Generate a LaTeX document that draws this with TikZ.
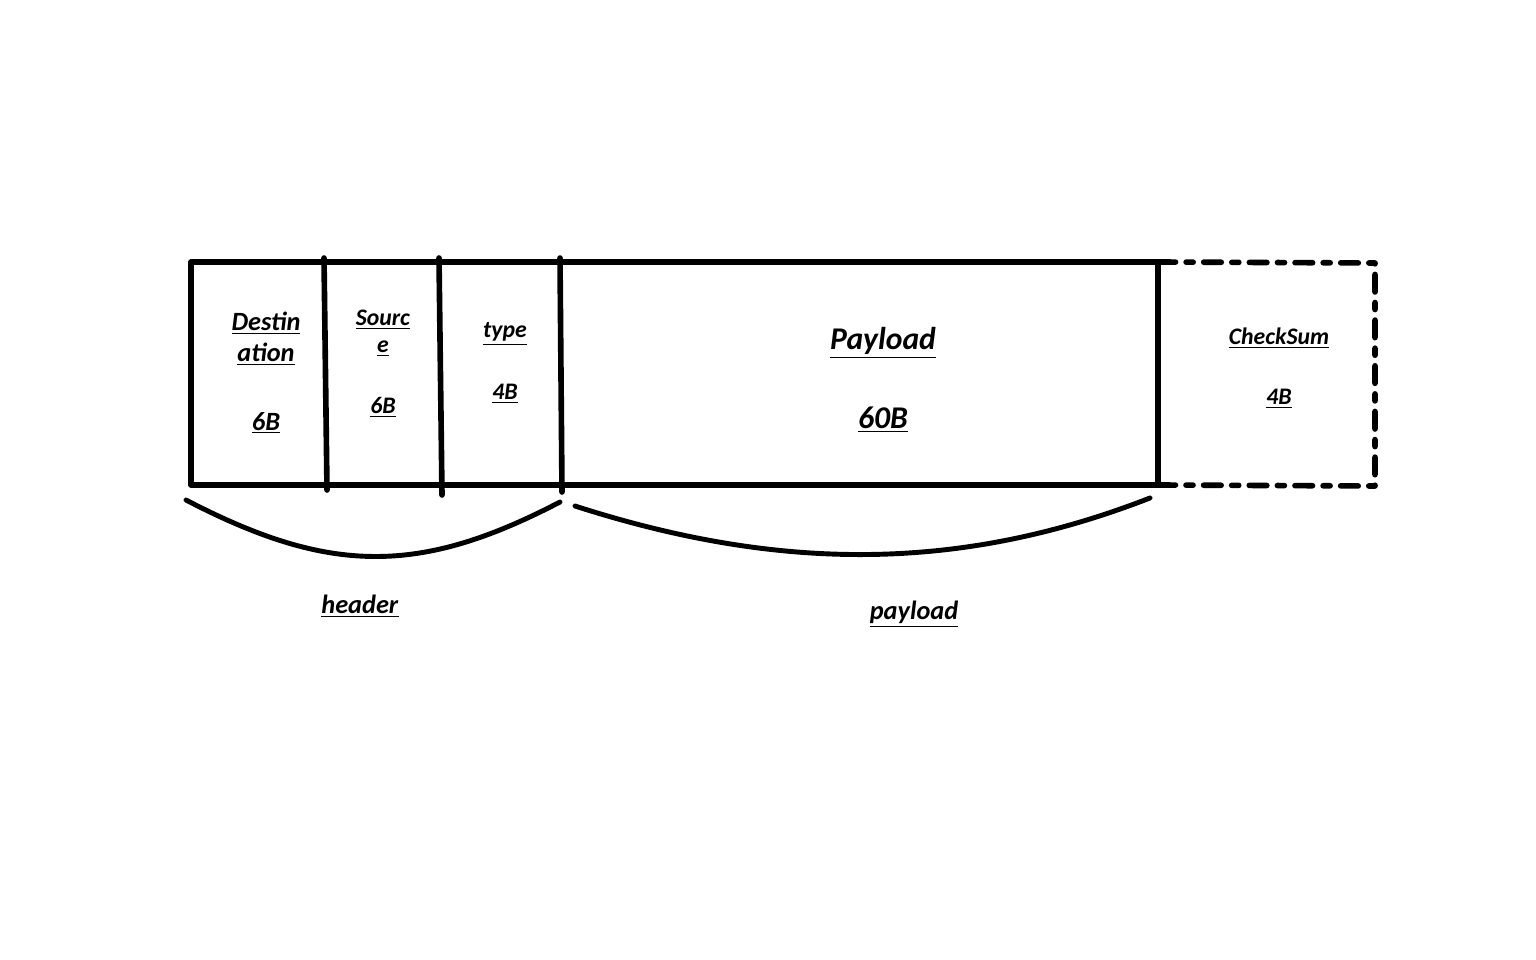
\documentclass[tikz,border=0pt]{standalone}
\usepackage{fontspec}
\setmainfont{Carlito}
\usepackage{tikz}

\newcommand{\fieldtext}[1]{\underline{\textbf{\textit{#1}}}}

\begin{document}
\begin{tikzpicture}
	[x=0.02cm,y=-0.02cm,line cap=round,line join=round,
		frame/.style={line width=3.2pt},
		brace/.style={line width=2.8pt},
		big/.style={font=\fontsize{18}{20}\selectfont},
		mid/.style={font=\fontsize{15}{17}\selectfont},
		small/.style={font=\fontsize{13.5}{15}\selectfont}]

	\useasboundingbox (0,0) rectangle (1536,960);

	% frame of the packet
	\coordinate (TL) at (191,262);
	\coordinate (BL) at (191,485);
	\coordinate (TR) at (1158,262);
	\coordinate (BR) at (1158,485);
	\draw[frame] (TR) -- (TL) -- (BL) -- (BR) -- cycle;

	% field borders
	\draw[frame] (324,258) -- (327,490);
	\draw[frame] (439,258) -- (442,495);
	\draw[frame] (560,258) -- (562,492);

	% checksum field (optional)
	\coordinate (CR) at (1375,263);
	\coordinate (CB) at (1375,486);
	\draw[frame,dash pattern=on 10pt off 6pt on 4pt off 6pt] (TR) -- (CR) -- (CB) -- (BR);

	% texts
	\node[mid] (dst1) at (266,323) {\fieldtext{Destin}};
	\node[mid] (dst2) at (266,354) {\fieldtext{ation}};
	\node[mid] (dstB) at (266,423) {\fieldtext{6B}};
	\node[small] (src1) at (383,320) {\fieldtext{Sourc}};
	\node[small] (src2) at (383,349) {\fieldtext{e}};
	\node[small] (srcB) at (383,407) {\fieldtext{6B}};
	\node[small] (typ1) at (505,334) {\fieldtext{type}};
	\node[small] (typB) at (505,394) {\fieldtext{4B}};
	\node[big] (pay1) at (883,343) {\fieldtext{Payload}};
	\node[big] (payB) at (883,420) {\fieldtext{60B}};
	\node[small] (chk1) at (1279,338) {\fieldtext{CheckSum}};
	\node[small] (chkB) at (1279,399) {\fieldtext{4B}};

	% braces
	\coordinate (hL) at (186,500);
	\coordinate (hR) at (560,502);
	\coordinate (pL) at (575,506);
	\coordinate (pR) at (1150,498);
	\draw[brace] (hL) .. controls (330,575) and (420,575) .. (hR);
	\draw[brace] (pL) .. controls (780,572) and (960,572) .. (pR);

	\node[mid] (hdr) at (360,606) {\fieldtext{header}};
	\node[mid] (pld) at (914,614) {\fieldtext{payload}};
\end{tikzpicture}
\end{document}
